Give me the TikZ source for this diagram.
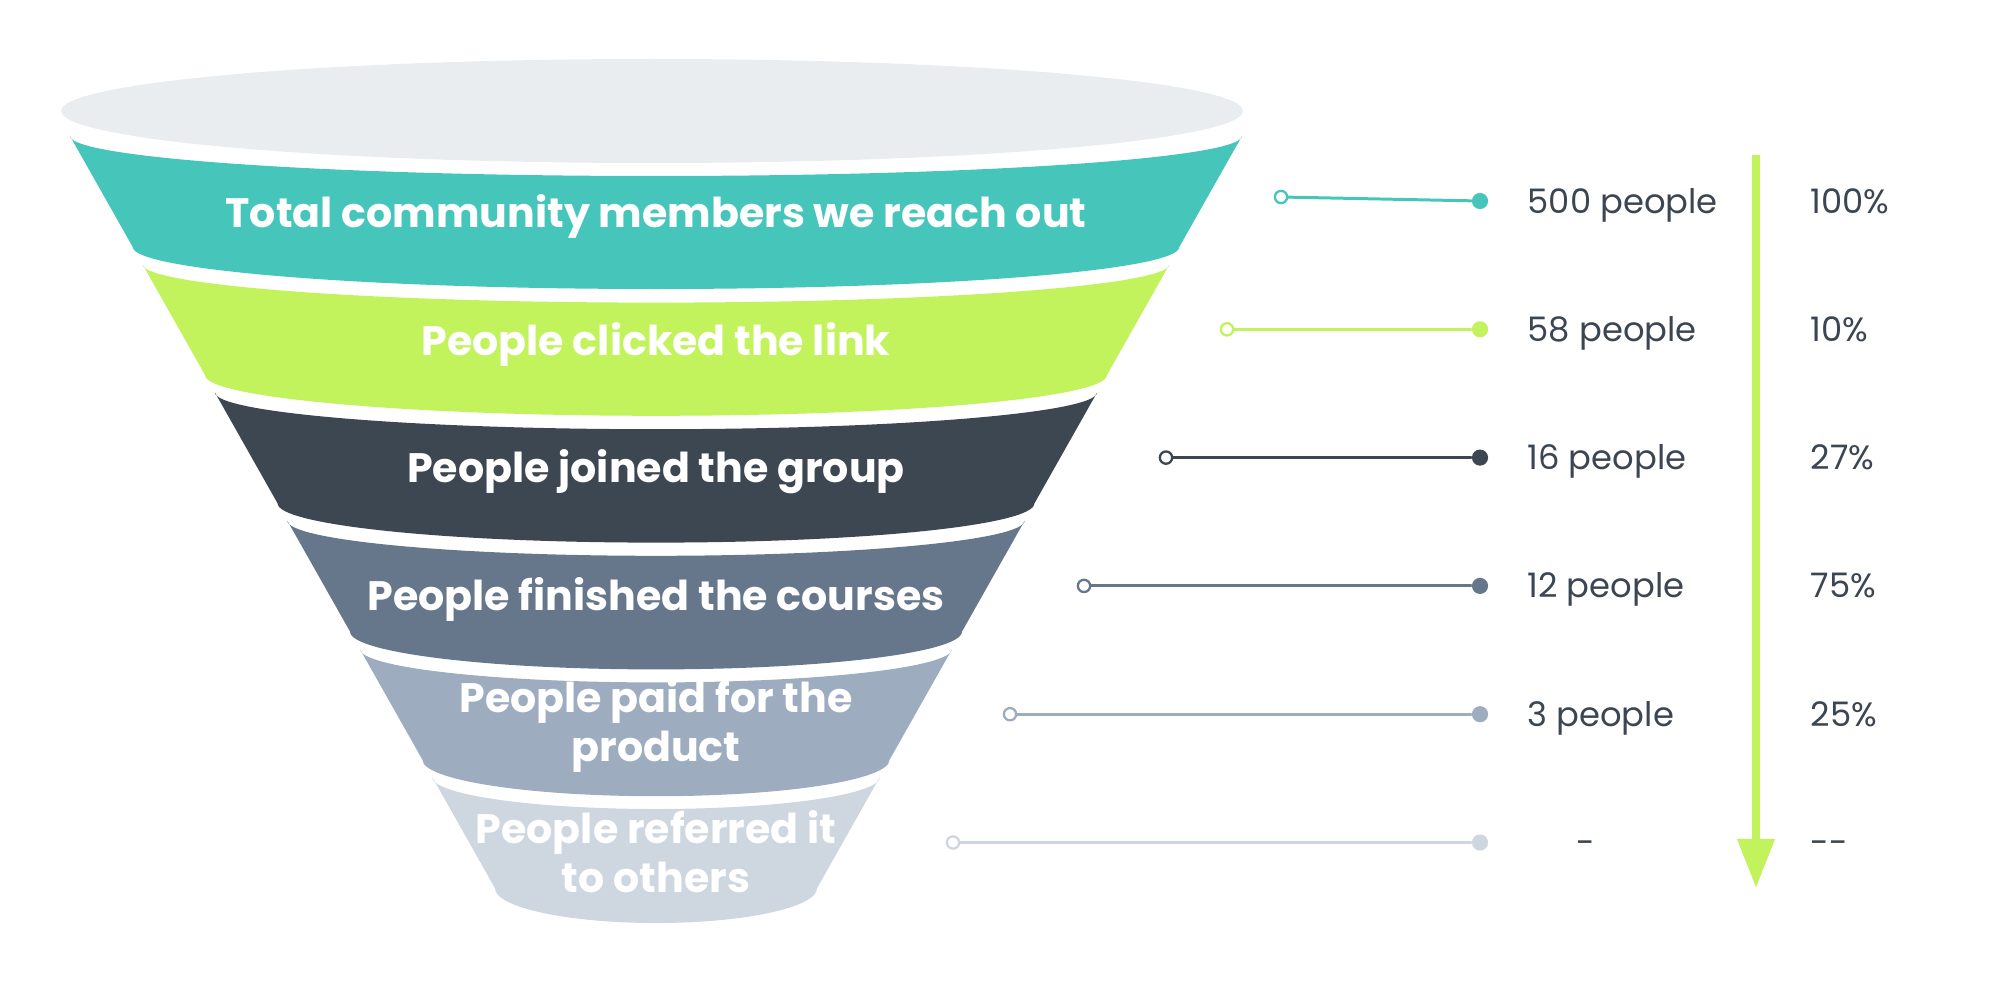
\documentclass[tikz,border=0pt]{standalone}
\usepackage{fontspec}
\setmainfont{Poppins}
\usetikzlibrary{arrows.meta}
\definecolor{fTop}{HTML}{E9EDF0}
\definecolor{fTeal}{HTML}{46C6BB}
\definecolor{fLime}{HTML}{C2F25C}
\definecolor{fDark}{HTML}{3D4751}
\definecolor{fSlate}{HTML}{67778B}
\definecolor{fGrey}{HTML}{9DACBF}
\definecolor{fPale}{HTML}{CED6DF}
\definecolor{fText}{HTML}{3C4652}
\begin{document}
\begin{tikzpicture}[x=0.01cm, y=0.01cm, line join=round, line cap=round,
    lbl/.style={text=white, align=center, inner sep=0pt, font=\bfseries\fontsize{11.7}{13.9}\selectfont},
    figure/.style={text=fText, inner sep=0pt, anchor=base west, font=\fontsize{9.6}{11}\selectfont},
    ring/.style={circle, draw=#1, fill=white, line width=0.65pt, minimum size=3.5pt, inner sep=0pt},
    blob/.style={circle, fill=#1, minimum size=4.6pt, inner sep=0pt}]
  \useasboundingbox (0,0) rectangle (1992,-982);

  \fill[fTop] (652,-111) ellipse[x radius=591, y radius=52];
  \foreach \k/\col in {0/fTeal, 1/fLime, 2/fDark, 3/fSlate, 4/fGrey, 5/fPale} {
    \pgfmathsetmacro{\yt}{136+128.2*\k}
    \pgfmathsetmacro{\yb}{\yt+111}
    \pgfmathsetmacro{\wt}{586-0.565*(\yt-136)}
    \pgfmathsetmacro{\wb}{586-0.565*(\yb-136)}
    \pgfmathsetmacro{\st}{40-1.6*\k}
    \pgfmathsetmacro{\sb}{42-1.4*\k}
    \fill[\col] (656-\wt,-\yt) arc[start angle=180, end angle=360, x radius=\wt, y radius=\st]
      -- (656+\wb,-\yb) arc[start angle=0, end angle=-180, x radius=\wb, y radius=\sb] -- cycle;
  }

  \node[lbl, anchor=base] (lReach) at (656,-227) {Total community members we reach out};
  \node[lbl, anchor=base] (lClick) at (656,-355) {People clicked the link};
  \node[lbl, anchor=base] (lJoin) at (656,-482) {People joined the group};
  \node[lbl, anchor=base] (lFinish) at (656,-610) {People finished the courses};
  \node[lbl] (lPaid) at (656,-726) {People paid for the\\product};
  \node[lbl] (lRefer) at (656,-852) {People referred it\\to others};

  \foreach \k/\col/\xo/\dy/\xn/\num/\pct in {
      0/fTeal/1281/-4/1527/{500 people}/{100\%},
      1/fLime/1227/0/1527/{58 people}/{10\%},
      2/fDark/1166/0/1527/{16 people}/{27\%},
      3/fSlate/1084/0/1527/{12 people}/{75\%},
      4/fGrey/1010/0/1527/{3 people}/{25\%},
      5/fPale/953/0/1576/{-}/{-{}-}} {
    \pgfmathsetmacro{\yr}{201+128.3*\k}
    \node[ring=\col] (o\k) at (\xo,-\yr-\dy) {};
    \node[blob=\col] (d\k) at (1480,-\yr) {};
    \draw[\col, line width=0.85pt] (o\k) -- (d\k);
    \node[figure] (n\k) at (\xn,-\yr-12) {\num};
    \node[figure] (p\k) at (1810,-\yr-12) {\pct};
  }

  \coordinate (aTop) at (1756,-155);
  \coordinate (aEnd) at (1756,-888);
  \draw[fLime, line width=2.3pt, line cap=butt, -{Triangle[width=10.2pt, length=14pt]}] (aTop) -- (aEnd);
\end{tikzpicture}
\end{document}
